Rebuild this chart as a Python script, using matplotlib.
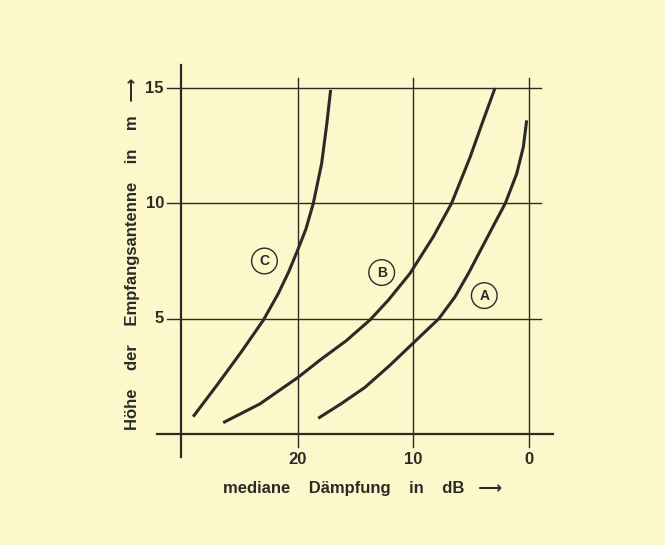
import numpy as np
import matplotlib.pyplot as plt

plt.rcParams['font.family'] = ['Liberation Sans', 'DejaVu Sans']

# curves: attenuation in dB, antenna height in m
a_db = [18.24, 16.2, 14.2, 12.1, 10.0, 7.8, 6.4, 5.2, 4.0, 2.95, 2.05, 1.06, 0.49, 0.2]
a_m = [0.68, 1.33, 2.02, 2.95, 3.95, 5.0, 5.95, 7.0, 8.15, 9.15, 10.0, 11.29, 12.44, 13.6]

b_db = [26.47, 23.3, 20.0, 18.1, 15.8, 13.75, 12.18, 10.3, 8.3, 6.7, 5.1, 3.96, 2.94]
b_m = [0.49, 1.3, 2.45, 3.2, 4.05, 4.95, 5.8, 6.96, 8.54, 10.0, 12.0, 13.6, 15.0]

c_db = [29.07, 26.9, 24.9, 23.0, 21.7, 20.8, 20.0, 19.3, 18.67, 17.95, 17.5, 17.17]
c_m = [0.75, 2.19, 3.56, 4.93, 6.09, 7.03, 8.0, 8.9, 10.0, 11.72, 13.45, 14.92]

curve_labels = ["A", "B", "C"]
label_db = [3.87, 12.75, 22.9]
label_m = [6.0, 7.0, 7.5]

x_ticks = [20, 10, 0]
y_ticks = [5, 10, 15]

bg = '#fcf8cb'
ink = '#2b2b26'

fig = plt.figure(figsize=(6.65, 5.45), dpi=100, facecolor=bg)
ax = fig.add_axes([157/665, 88/545, 396/665, 392/545])
ax.set_facecolor(bg)
ax.set_xlim(32.2, -2.08)
ax.set_ylim(-1.0, 16.0)
ax.axis('off')

# grid lines (extend a bit past the axes as ticks)
for x in x_ticks:
    ax.plot([x, x], [-0.55, 15.45], color=ink, lw=1.0, clip_on=False)
    ax.text(x, -1.1, str(x), ha='center', va='center', fontsize=12,
            fontweight='bold', color=ink, clip_on=False)
for y in y_ticks:
    ax.plot([31.3, -1.05], [y, y], color=ink, lw=1.0, clip_on=False)
    ax.text(31.6, y, str(y), ha='right', va='center', fontsize=12,
            fontweight='bold', color=ink, clip_on=False)

# main axes
ax.plot([30.1, 30.1], [-1.0, 16.0], color=ink, lw=1.6, clip_on=False)
ax.plot([32.2, -2.08], [0, 0], color=ink, lw=1.6, clip_on=False)

for xs, ys in [(a_db, a_m), (b_db, b_m), (c_db, c_m)]:
    ax.plot(xs, ys, color=ink, lw=2.2, solid_capstyle='butt',
            solid_joinstyle='round')

for lab, x, y in zip(curve_labels, label_db, label_m):
    ax.text(x, y, lab, ha='center', va='center', fontsize=10, fontweight='bold',
            color=ink,
            bbox=dict(boxstyle='circle,pad=0.42', fc='none', ec=ink, lw=1.0))

fig.text(363/665, 1 - 488/545, "mediane    Dämpfung    in    dB   \u27f6",
         ha='center', va='center', fontsize=12, fontweight='bold', color=ink)
fig.text(133/665, 1 - 254/545, "Höhe    der    Empfangsantenne    in    m   \u27f6",
         ha='center', va='center', rotation=90, fontsize=12, fontweight='bold',
         color=ink)

fig.savefig("out.png", dpi=100, facecolor=bg)
